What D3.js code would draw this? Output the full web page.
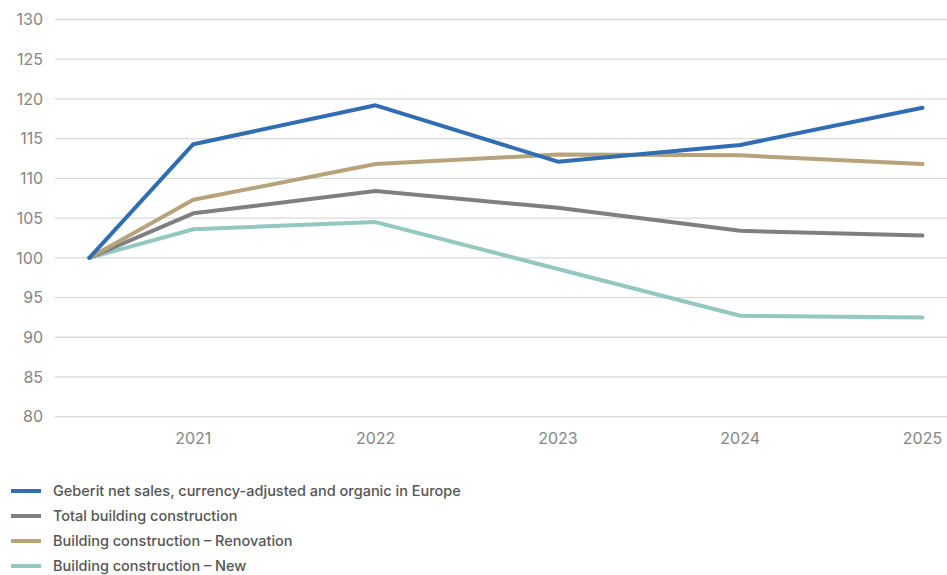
<!DOCTYPE html>
<html><head><meta charset="utf-8">
<script src="https://cdn.jsdelivr.net/npm/d3@7"></script>
<style>
html,body{margin:0;padding:0;background:#fff;}
svg text{font-family:Inter,"Noto Sans",sans-serif;}
</style></head>
<body><svg id="c" width="947" height="575"></svg>
<script>
// Index base point (start of period) followed by year-end points
const periods = [2020.43, 2021, 2022, 2023, 2024, 2025];
const tickYears = [2021, 2022, 2023, 2024, 2025];
const yTicks = [80, 85, 90, 95, 100, 105, 110, 115, 120, 125, 130];
const seriesNames = [
  "Geberit net sales, currency-adjusted and organic in Europe",
  "Total building construction",
  "Building construction – Renovation",
  "Building construction – New"
];
const geberit    = [100, 114.3, 119.2, 112.1, 114.2, 118.9];
const total      = [100, 105.6, 108.4, 106.3, 103.4, 102.8];
const renovation = [100, 107.3, 111.8, 113.0, 112.9, 111.8];
const newBuild   = [100, 103.6, 104.5, 98.6, 92.7, 92.5];
const colors = ["#316db3", "#7f7f7f", "#b6a27b", "#93c8c0"];

const svg = d3.select("#c");
const x = d3.scaleLinear().domain([2021, 2025]).range([193.3, 922.5]);
const y = d3.scaleLinear().domain([80, 130]).range([416.7, 19.5]);

// gridlines
svg.append("g").selectAll("line").data(yTicks).join("line")
  .attr("x1", 55).attr("x2", 947)
  .attr("y1", d => y(d)).attr("y2", d => y(d))
  .attr("stroke", "#dadada").attr("stroke-width", 1.3);

// y labels
svg.append("g").selectAll("text").data(yTicks).join("text")
  .attr("x", 43).attr("y", d => y(d)).attr("dy", "0.36em")
  .attr("text-anchor", "end").attr("fill", "#858585")
  .attr("font-size", 16).text(d => d);

// x labels
svg.append("g").selectAll("text").data(tickYears).join("text")
  .attr("x", d => x(d)).attr("y", 444)
  .attr("text-anchor", "middle").attr("fill", "#858585")
  .attr("font-size", 16).text(d => d);

const all = [geberit, total, renovation, newBuild];
const line = d3.line().x((d, i) => x(periods[i])).y(d => y(d));
// draw order: new, total, renovation, geberit on top
[3, 1, 2, 0].forEach(k => {
  svg.append("path").datum(all[k]).attr("d", line)
    .attr("fill", "none").attr("stroke", colors[k])
    .attr("stroke-width", 4).attr("stroke-linejoin", "round").attr("stroke-linecap", "round");
});

// legend
const lg = svg.append("g");
seriesNames.forEach((n, i) => {
  const yy = 491 + i * 25;
  lg.append("line").attr("x1", 11).attr("x2", 41).attr("y1", yy).attr("y2", yy)
    .attr("stroke", colors[i]).attr("stroke-width", 4);
  lg.append("text").attr("x", 53).attr("y", yy).attr("dy", "0.36em")
    .attr("fill", "#555").attr("font-size", 14.5).attr("font-weight", 500).text(n);
});
</script></body></html>
